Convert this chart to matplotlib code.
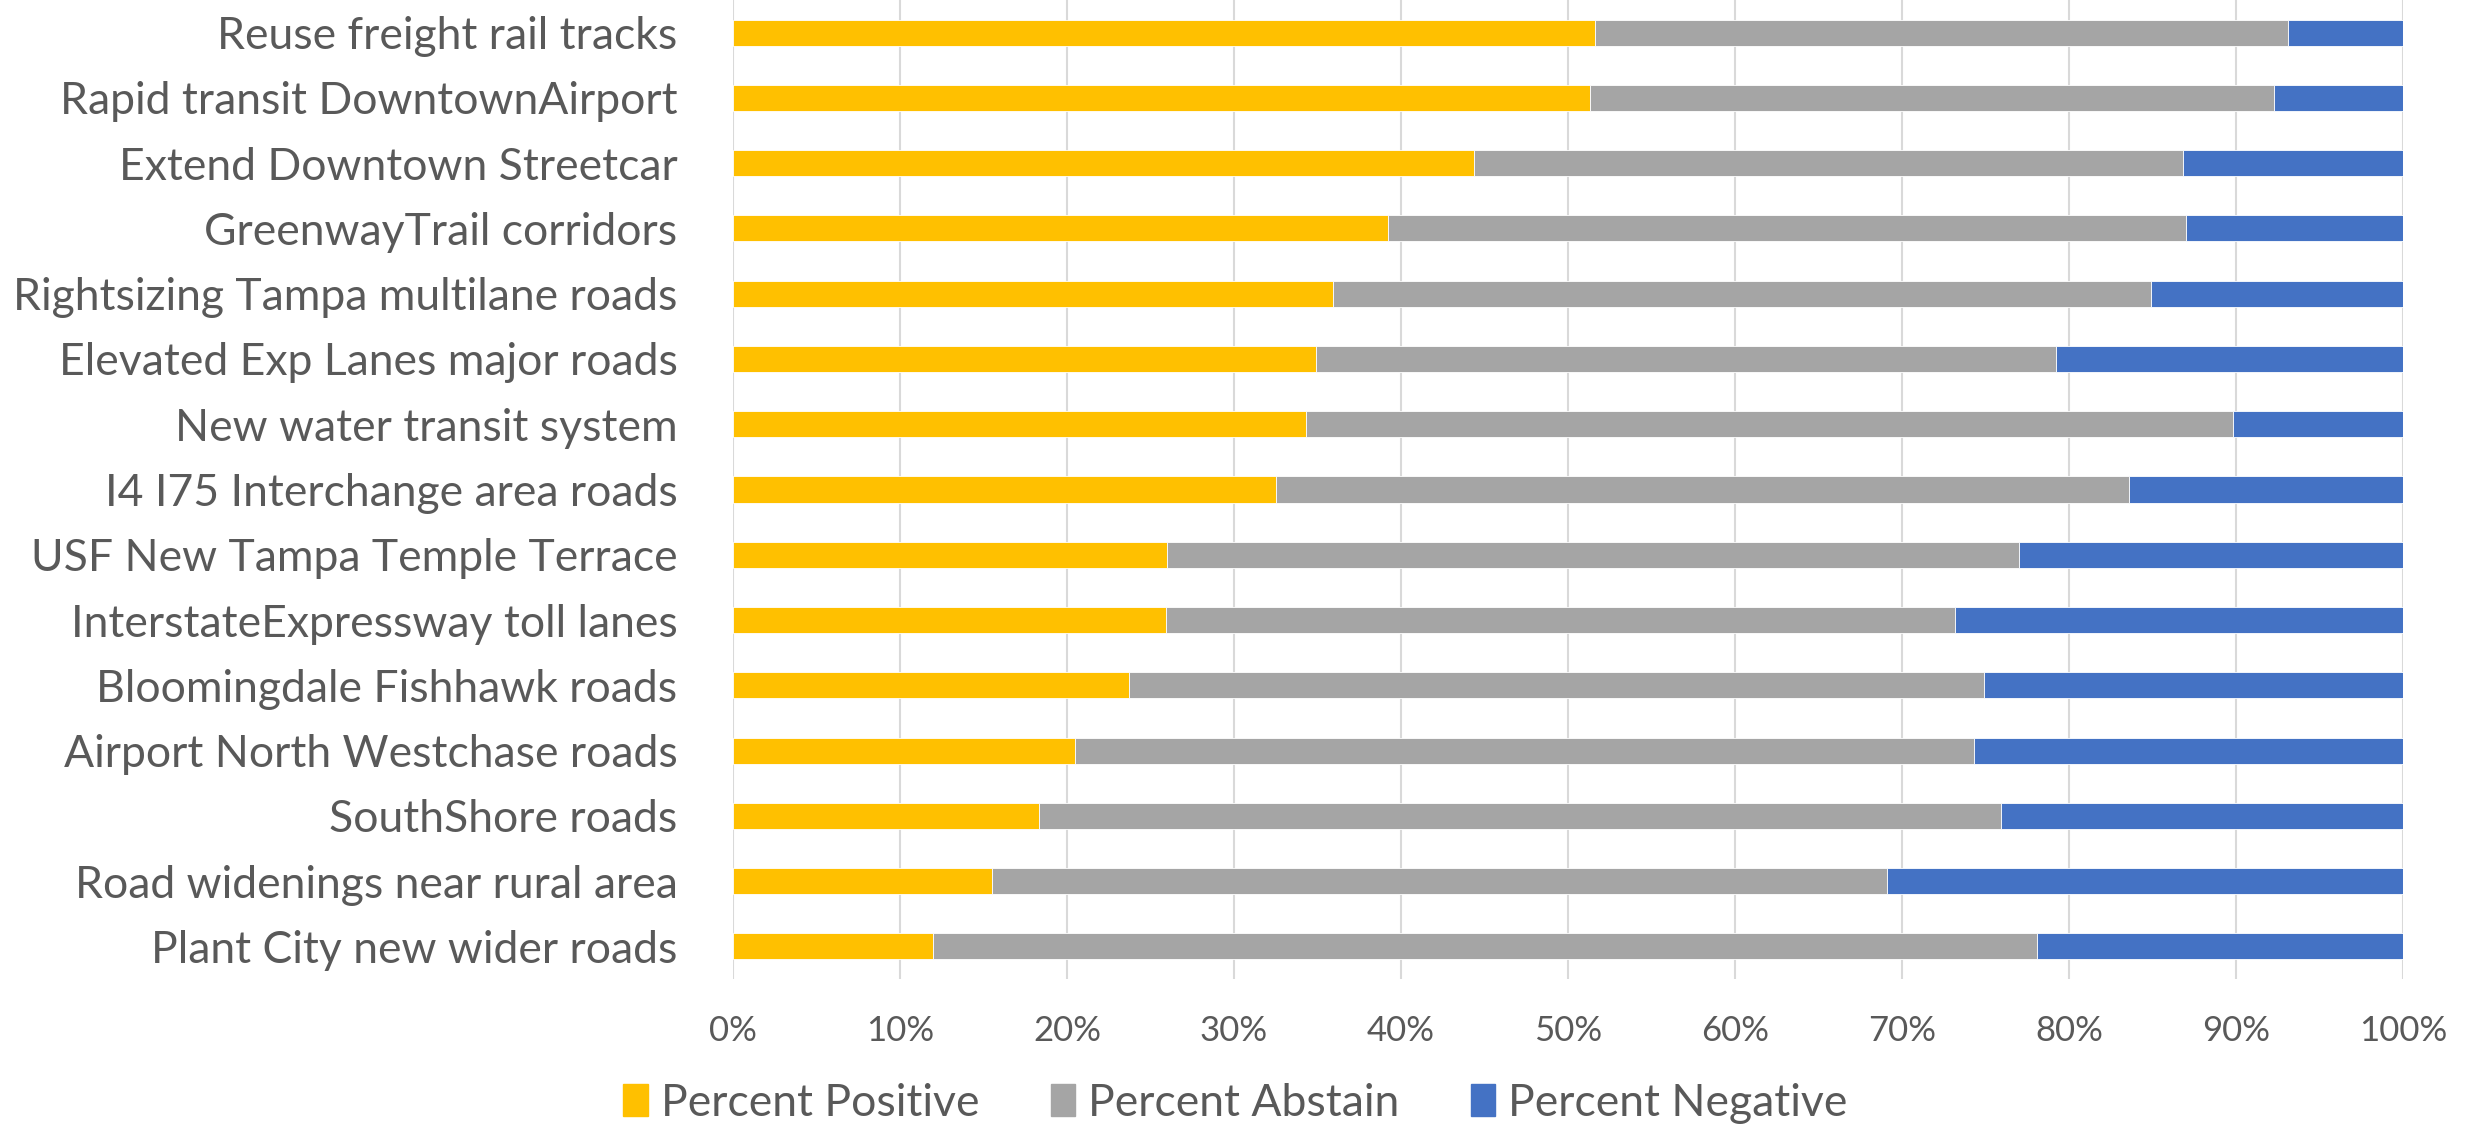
import matplotlib.pyplot as plt
import numpy as np
from matplotlib.patches import Patch
from matplotlib.ticker import PercentFormatter

projects = [
    "Reuse freight rail tracks",
    "Rapid transit DowntownAirport",
    "Extend Downtown Streetcar",
    "GreenwayTrail corridors",
    "Rightsizing Tampa multilane roads",
    "Elevated Exp Lanes major roads",
    "New water transit system",
    "I4 I75 Interchange area roads",
    "USF New Tampa Temple Terrace",
    "InterstateExpressway toll lanes",
    "Bloomingdale Fishhawk roads",
    "Airport North Westchase roads",
    "SouthShore roads",
    "Road widenings near rural area",
    "Plant City new wider roads",
]
pct_positive = [51.6, 51.3, 44.4, 39.2, 35.9, 34.9, 34.3, 32.5, 26.0, 25.9, 23.7, 20.5, 18.3, 15.5, 12.0]
pct_abstain = [41.5, 41.0, 42.4, 47.8, 49.0, 44.3, 55.5, 51.1, 51.0, 47.3, 51.2, 53.8, 57.6, 53.6, 66.1]
pct_negative = [6.9, 7.7, 13.2, 13.0, 15.1, 20.8, 10.2, 16.4, 23.0, 26.8, 25.1, 25.7, 24.1, 30.9, 21.9]

series = ["Percent Positive", "Percent Abstain", "Percent Negative"]
colors = ["#FFC000", "#A5A5A5", "#4472C4"]

plt.rcParams['font.family'] = ['Lato', 'DejaVu Sans']
txt = "#595959"

fig = plt.figure(figsize=(24.71, 11.24), dpi=100)
ax = fig.add_axes([733/2471, 1 - 979/1124, (2403 - 733)/2471, 979/1124])

y = np.arange(len(projects))
left = np.zeros(len(projects))
for vals, c in zip([pct_positive, pct_abstain, pct_negative], colors):
    v = np.array(vals) / 100
    ax.barh(y, v, left=left, height=0.4, color=c, edgecolor="white", linewidth=0.6, zorder=2)
    left += v

ax.set_xlim(0, 1)
ax.set_ylim(len(projects) - 0.5, -0.5)
ax.set_xticks(np.linspace(0, 1, 11))
ax.xaxis.set_major_formatter(PercentFormatter(1.0, decimals=0))
ax.set_yticks(y)
ax.set_yticklabels(projects)
ax.grid(axis="x", color="#D9D9D9", linewidth=1.5, zorder=0)
for s in ax.spines.values():
    s.set_visible(False)
ax.tick_params(axis="y", length=0, pad=40, labelsize=32, labelcolor=txt)
ax.tick_params(axis="x", length=0, pad=26, labelsize=25, labelcolor=txt)

handles = [Patch(color=c) for c in colors]
fig.legend(handles, series, loc="center", bbox_to_anchor=(0.5, 1 - 1103/1124), ncol=3,
           frameon=False, fontsize=32, labelcolor=txt, handlelength=0.55, handleheight=0.75,
           handletextpad=0.3, columnspacing=1.6)

fig.savefig("out.png", dpi=100)
